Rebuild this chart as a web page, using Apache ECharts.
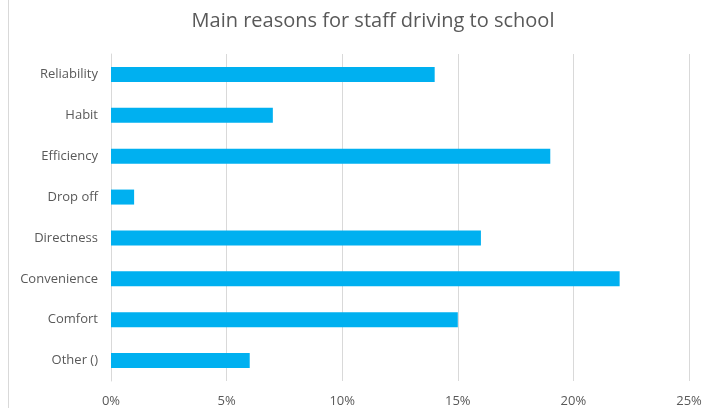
<!DOCTYPE html>
<html><head><meta charset="utf-8">
<script src="https://cdn.jsdelivr.net/npm/echarts@6/dist/echarts.min.js"></script>
<style>html,body{margin:0;padding:0;background:#fff}#c{width:713px;height:408px}</style>
</head><body><div id="c"></div>
<script>
const categories = ['Reliability','Habit','Efficiency','Drop off','Directness','Convenience','Comfort','Other ()'];
const values = [14, 7, 19, 1, 16, 22, 15, 6];
const chart = echarts.init(document.getElementById('c'));
chart.setOption({
  animation: false,
  title: { text: 'Main reasons for staff driving to school', left: 368, top: 6, textAlign: 'center',
    textStyle: { fontFamily: 'Open Sans, Liberation Sans, sans-serif', fontSize: 20, fontWeight: 'normal', color: '#595959' } },
  graphic: [{ type: 'line', shape: { x1: 8.5, y1: 0, x2: 8.5, y2: 408 }, style: { stroke: '#d9d9d9', lineWidth: 1 } }],
  grid: { left: 111, right: 24, top: 54, bottom: 22, containLabel: false },
  xAxis: { type: 'value', min: 0, max: 25, interval: 5,
    axisLabel: { formatter: '{value}%', color: '#595959', fontSize: 13, fontFamily: 'Open Sans, sans-serif', margin: 14 },
    splitLine: { lineStyle: { color: '#d9d9d9' } }, axisLine: { show: false }, axisTick: { show: false } },
  yAxis: { type: 'category', data: categories, inverse: true,
    axisLabel: { color: '#595959', fontSize: 13, fontFamily: 'Open Sans, sans-serif', margin: 13 },
    axisLine: { lineStyle: { color: '#d9d9d9' } }, axisTick: { show: false } },
  series: [{ type: 'bar', data: values, barWidth: 15, itemStyle: { color: '#00B0F0' } }]
});
</script></body></html>
